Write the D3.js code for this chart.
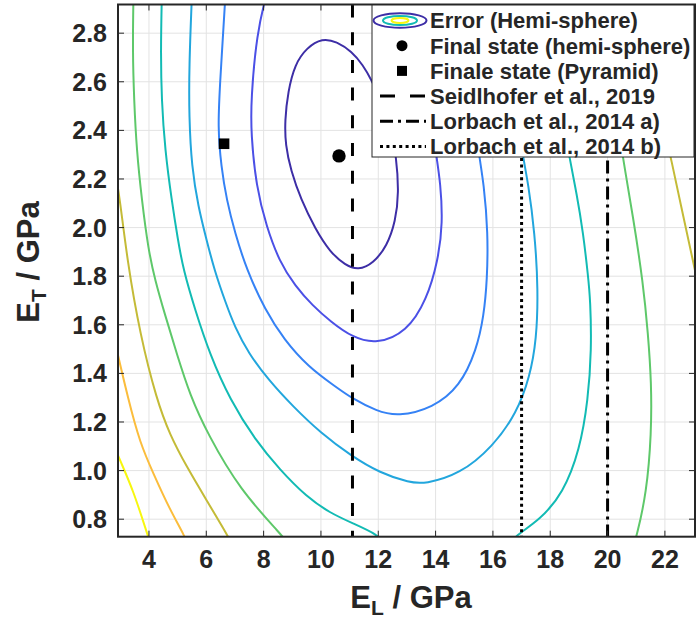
<!DOCTYPE html>
<html>
<head>
<meta charset="utf-8">
<script src="https://cdn.jsdelivr.net/npm/d3@7"></script>
<style>
    body { margin: 0; background: #fff; }
    svg { display: block; }
    text { font-family: "Liberation Sans", Arial, sans-serif; font-weight: bold; fill: #262626; }
</style>
</head>
<body>
<svg id="chart" width="697" height="619"></svg>
<script>
// Ticks
const xTicks = [4, 6, 8, 10, 12, 14, 16, 18, 20, 22];
const yTicks = [0.8, 1.0, 1.2, 1.4, 1.6, 1.8, 2.0, 2.2, 2.4, 2.6, 2.8];

// Error contours (E_L, E_T), innermost first
const contour1 = [[10.05, 2.780], [10.55, 2.765], [11.07, 2.725], [11.47, 2.668], [11.75, 2.610], [12.13, 2.517],
    [12.44, 2.410], [12.63, 2.292], [12.72, 2.142], [12.60, 2.025], [12.31, 1.925], [11.82, 1.852], [11.30, 1.825],
    [10.85, 1.845], [10.31, 1.900], [9.80, 1.995], [9.30, 2.116], [8.95, 2.235], [8.76, 2.340], [8.74, 2.440],
    [8.85, 2.560], [9.09, 2.672], [9.50, 2.740]];
const contour2 = [[8.10, 2.96], [7.76, 2.800], [7.56, 2.526], [7.56, 2.388], [7.74, 2.169], [8.10, 2.004], [8.55, 1.860],
    [9.10, 1.760], [9.70, 1.680], [10.35, 1.612], [11.10, 1.548], [11.94, 1.520], [12.99, 1.570], [13.69, 1.702],
    [14.09, 1.867], [14.25, 2.019], [14.17, 2.184], [14.03, 2.291], [13.80, 2.484], [13.52, 2.690], [13.28, 2.96]];
const contour3 = [[6.67, 2.96], [6.48, 2.595], [6.40, 2.414], [6.52, 2.250], [6.71, 2.114], [7.00, 1.978], [7.41, 1.826],
    [8.05, 1.661], [8.72, 1.538], [9.55, 1.428], [10.50, 1.346], [11.10, 1.296], [11.94, 1.245], [12.68, 1.222],
    [13.91, 1.258], [14.85, 1.346], [15.43, 1.497], [15.68, 1.634], [15.80, 1.785], [15.83, 1.978], [15.68, 2.184],
    [15.52, 2.291], [15.27, 2.525], [15.03, 2.96]];
const contour4 = [[5.50, 2.96], [5.40, 2.661], [5.40, 2.455], [5.49, 2.250], [5.72, 2.085], [6.01, 1.949], [6.28, 1.826],
    [6.68, 1.689], [6.99, 1.593], [7.47, 1.483], [8.17, 1.373], [9.03, 1.263], [10.00, 1.154], [11.05, 1.061],
    [12.06, 0.990], [13.10, 0.950], [13.62, 0.945], [14.85, 0.985], [16.00, 1.099], [16.83, 1.237], [17.29, 1.387],
    [17.52, 1.538], [17.58, 1.744], [17.46, 1.978], [17.23, 2.184], [17.06, 2.279], [16.77, 2.525], [16.50, 2.96]];
const contour5a = [[4.45, 2.96], [4.41, 2.731], [4.44, 2.525], [4.56, 2.320], [4.79, 2.114], [5.01, 1.949], [5.20, 1.826],
    [5.61, 1.661], [6.13, 1.476], [6.83, 1.291], [7.70, 1.127], [8.57, 1.003], [9.50, 0.892], [10.31, 0.826],
    [11.13, 0.782], [11.99, 0.736], [12.20, 0.70]];
const contour5b = [[16.55, 0.69], [16.73, 0.728], [17.64, 0.797], [18.45, 0.907], [19.03, 1.085], [19.32, 1.291],
    [19.44, 1.497], [19.40, 1.702], [19.32, 1.800], [19.15, 1.977], [18.92, 2.142], [18.68, 2.279], [18.33, 2.525],
    [17.95, 2.96]];
const contour6a = [[3.46, 2.96], [3.43, 2.731], [3.48, 2.525], [3.57, 2.320], [3.75, 2.114], [3.98, 1.908], [4.21, 1.785],
    [4.56, 1.641], [4.98, 1.477], [5.43, 1.311], [6.05, 1.150], [7.17, 0.921], [8.68, 0.728], [8.85, 0.70]];
const contour6b = [[20.10, 2.70], [20.25, 2.525], [20.54, 2.279], [20.89, 2.045], [21.24, 1.771], [21.41, 1.566],
    [21.53, 1.360], [21.53, 1.154], [21.36, 0.907], [21.01, 0.728], [20.88, 0.682]];
const contour7a = [[2.83, 2.226], [2.99, 2.114], [3.24, 1.867], [3.69, 1.559], [4.27, 1.291], [4.73, 1.147],
    [5.31, 1.017], [6.01, 0.878], [6.77, 0.728], [6.90, 0.695]];
const contour7b = [[21.89, 2.443], [22.23, 2.279], [22.64, 2.045], [23.05, 1.826], [23.15, 1.765]];
const contour8 = [[2.78, 1.546], [3.28, 1.291], [3.69, 1.113], [4.15, 0.989], [4.73, 0.839], [5.26, 0.728], [5.43, 0.674]];
const contour9 = [[2.71, 1.127], [2.92, 1.06], [3.45, 0.921], [3.97, 0.728], [4.11, 0.68]];

// parula colours for the 9 levels
const levelColors = ["#3d2ea6", "#4b50e6", "#3582f5", "#22a6dd", "#12bbb4", "#5ec86a", "#c4bb37", "#fbbd3c", "#f7f70f"];

// Final states
const finalHemi = [10.63, 2.295];
const finalPyramid = [6.62, 2.345];

// Literature values of E_L
const refNames = ["Seidlhofer et al., 2019", "Lorbach et al., 2014 a)", "Lorbach et al., 2014 b)"];
const refValues = [11.1, 20, 17];
const refDashes = ["13,14.7", "13,5,3,5", "3,3.4"];

const legendNames = ["Error (Hemi-sphere)", "Final state (hemi-sphere)", "Finale state (Pyramid)"].concat(refNames);

// Layout
const svg = d3.select("#chart");
const pL = 118, pR = 695, pT = 4.5, pB = 536.7;

let x = d3.scaleLinear().domain([2.92, 23.05]).range([pL, pR]);
let y = d3.scaleLinear().domain([0.728, 2.918]).range([pB, pT]);

svg.append("defs").append("clipPath").attr("id", "clip")
    .append("rect")
    .attr("x", pL).attr("y", pT)
    .attr("width", pR - pL).attr("height", pB - pT);

// Grid
svg.append("g").selectAll("line").data(xTicks).enter().append("line")
    .attr("x1", d => x(d)).attr("x2", d => x(d))
    .attr("y1", pT).attr("y2", pB)
    .attr("stroke", "#e3e3e3").attr("stroke-width", 1);
svg.append("g").selectAll("line").data(yTicks).enter().append("line")
    .attr("x1", pL).attr("x2", pR)
    .attr("y1", d => y(d)).attr("y2", d => y(d))
    .attr("stroke", "#e3e3e3").attr("stroke-width", 1);

// Contours (smoothed through the read points)
let plot = svg.append("g").attr("clip-path", "url(#clip)");

let lineOpen = d3.line().x(d => x(d[0])).y(d => y(d[1])).curve(d3.curveBasis);
let lineClosed = d3.line().x(d => x(d[0])).y(d => y(d[1])).curve(d3.curveBasisClosed);

const contours = [
    {pts: contour1, level: 0, closed: true},
    {pts: contour2, level: 1}, {pts: contour3, level: 2}, {pts: contour4, level: 3},
    {pts: contour5a, level: 4}, {pts: contour5b, level: 4},
    {pts: contour6a, level: 5}, {pts: contour6b, level: 5},
    {pts: contour7a, level: 6}, {pts: contour7b, level: 6},
    {pts: contour8, level: 7}, {pts: contour9, level: 8}
];

plot.selectAll("path.contour").data(contours).enter().append("path")
    .attr("class", "contour")
    .attr("d", d => d.closed ? lineClosed(d.pts) : lineOpen(d.pts))
    .attr("fill", "none")
    .attr("stroke", d => levelColors[d.level])
    .attr("stroke-width", 2);

// Reference lines
plot.selectAll("line.ref").data(refValues).enter().append("line")
    .attr("class", "ref")
    .attr("x1", d => x(d)).attr("x2", d => x(d))
    .attr("y1", pT).attr("y2", pB)
    .attr("stroke", "black").attr("stroke-width", 3)
    .attr("stroke-dasharray", (d, i) => refDashes[i]);

// Markers
plot.append("circle")
    .attr("cx", x(finalHemi[0])).attr("cy", y(finalHemi[1]))
    .attr("r", 6.7).attr("fill", "black");
plot.append("rect")
    .attr("x", x(finalPyramid[0]) - 5.3).attr("y", y(finalPyramid[1]) - 5.3)
    .attr("width", 10.6).attr("height", 10.6).attr("fill", "black");

// Ticks (inside, all four sides)
let ticks = svg.append("g").attr("stroke", "#262626").attr("stroke-width", 1);
xTicks.forEach(t => {
    ticks.append("line").attr("x1", x(t)).attr("x2", x(t)).attr("y1", pB).attr("y2", pB - 6);
    ticks.append("line").attr("x1", x(t)).attr("x2", x(t)).attr("y1", pT).attr("y2", pT + 6);
});
yTicks.forEach(t => {
    ticks.append("line").attr("x1", pL).attr("x2", pL + 6).attr("y1", y(t)).attr("y2", y(t));
    ticks.append("line").attr("x1", pR).attr("x2", pR - 6).attr("y1", y(t)).attr("y2", y(t));
});

// Tick labels
svg.append("g").selectAll("text").data(xTicks).enter().append("text")
    .attr("x", d => x(d)).attr("y", 568)
    .attr("text-anchor", "middle")
    .style("font-size", "25px")
    .text(d => d);
svg.append("g").selectAll("text").data(yTicks).enter().append("text")
    .attr("x", 107).attr("y", d => y(d) + 9)
    .attr("text-anchor", "end")
    .style("font-size", "25px")
    .text(d => d.toFixed(1));

// Axis titles
let xlab = svg.append("text")
    .attr("x", 411).attr("y", 608)
    .attr("text-anchor", "middle")
    .style("font-size", "31px");
xlab.append("tspan").text("E");
xlab.append("tspan").attr("dy", 7).style("font-size", "21px").text("L");
xlab.append("tspan").attr("dy", -7).text(" / GPa");

let ylab = svg.append("text")
    .attr("transform", "translate(39," + 262 + ") rotate(-90)")
    .attr("text-anchor", "middle")
    .style("font-size", "31px");
ylab.append("tspan").text("E");
ylab.append("tspan").attr("dy", 7).style("font-size", "21px").text("T");
ylab.append("tspan").attr("dy", -7).text(" / GPa");

// Legend
let legend = svg.append("g");
legend.append("rect")
    .attr("x", 372).attr("y", pT)
    .attr("width", pR - 1 - 372).attr("height", 157 - pT)
    .attr("fill", "white").attr("stroke", "#262626").attr("stroke-width", 1);

let rowY = i => 20.5 + i * 25.2;

legend.selectAll("text").data(legendNames).enter().append("text")
    .attr("x", 430).attr("y", (d, i) => rowY(i) + 7.8)
    .style("font-size", "22px")
    .text(d => d);

// legend icon: nested contour ellipses
[[26.5, 7.2, levelColors[0]], [17, 4.6, levelColors[4]], [8.5, 2.4, levelColors[8]]].forEach(e => {
    legend.append("ellipse")
        .attr("cx", 400).attr("cy", rowY(0))
        .attr("rx", e[0]).attr("ry", e[1])
        .attr("fill", "none").attr("stroke", e[2]).attr("stroke-width", 2);
});
legend.append("circle").attr("cx", 402).attr("cy", rowY(1)).attr("r", 5.5).attr("fill", "black");
legend.append("rect").attr("x", 397).attr("y", rowY(2) - 5).attr("width", 10).attr("height", 10).attr("fill", "black");
refDashes.forEach((dash, i) => {
    legend.append("line")
        .attr("x1", 380).attr("x2", 426)
        .attr("y1", rowY(3 + i)).attr("y2", rowY(3 + i))
        .attr("stroke", "black").attr("stroke-width", 3)
        .attr("stroke-dasharray", i === 0 ? "15,15" : dash);
});

// Axes box
svg.append("rect")
    .attr("x", pL).attr("y", pT)
    .attr("width", pR - pL).attr("height", pB - pT)
    .attr("fill", "none").attr("stroke", "#262626").attr("stroke-width", 2);
</script>
</body>
</html>
